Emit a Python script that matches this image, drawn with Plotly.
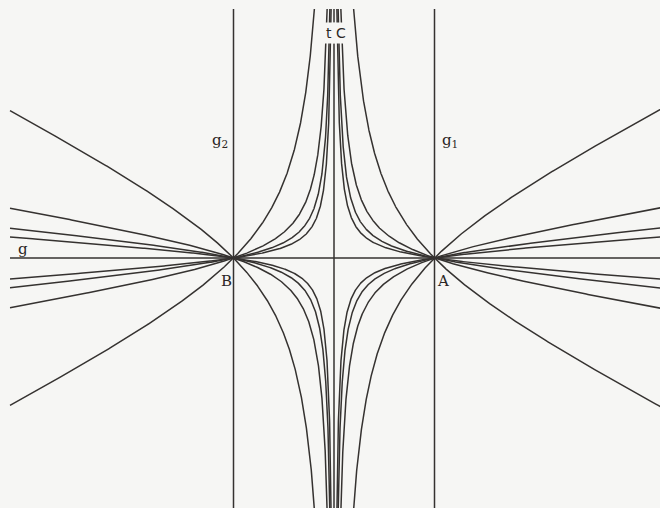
import numpy as np
import plotly.graph_objects as go

# Family parameters: y = k * (1/|x| - |x|)
k_values = [0.503, 0.170, 0.102, 0.0714]
signs = [1, -1]
labels = ["g", "g<sub>2</sub>", "g<sub>1</sub>", "B", "A", "t", "C"]

PX_C, PY_C, UNIT = 334.0, 258.0, 100.5
W, H = 660, 508
x_lo = (0 - PX_C) / UNIT
x_hi = (W - PX_C) / UNIT
y_hi = (PY_C - 0) / UNIT
y_lo = (PY_C - H) / UNIT
x_start = (10 - PX_C) / UNIT      # left end of the drawing
y_top = (PY_C - 9) / UNIT         # top end of the drawing

line_color = "#353230"
lw = 1.5

fig = go.Figure()

def add_line(xs, ys):
    fig.add_trace(go.Scatter(x=xs, y=ys, mode="lines",
                             line=dict(color=line_color, width=lw),
                             hoverinfo="skip", showlegend=False))

for k in k_values:
    for s in signs:
        kk = k * s
        if kk > 0:
            Y = y_top
        else:
            Y = abs(y_lo) + 0.2
        r = Y / abs(kk)
        x0 = (-r + np.sqrt(r * r + 4)) / 2
        xr = np.geomspace(x0, x_hi + 0.05, 600)
        yr = kk * (1 / xr - xr)
        xl = -np.geomspace(x0, -x_start, 600)
        yl = kk * (1 / np.abs(xl) - np.abs(xl))
        add_line(xr, yr)
        add_line(xl, yl)

# straight lines: g (horizontal), g1, g2, t (vertical)
add_line([x_start, x_hi + 0.1], [0, 0])
for xv in [-1, 0, 1]:
    add_line([xv, xv], [y_top, y_lo - 0.1])

font = dict(family="DejaVu Serif", size=15, color="#2a2725")
ann_pos = [(23, 249), (220, 141), (450, 141), (226, 281), (443, 281), (329, 33), (341, 33)]
annotations = []
for text, (px, py) in zip(labels, ann_pos):
    a = dict(x=px / W, y=1 - py / H, xref="paper", yref="paper", text=text,
             showarrow=False, font=font, xanchor="center", yanchor="middle")
    if text in ("t", "C"):
        a["bgcolor"] = "#f6f6f4"
        a["borderpad"] = 2
        a["font"] = dict(family="DejaVu Sans", size=14, color="#2a2725")
    annotations.append(a)

fig.update_layout(
    width=W, height=H,
    margin=dict(l=0, r=0, t=0, b=0),
    paper_bgcolor="#f6f6f4", plot_bgcolor="#f6f6f4",
    xaxis=dict(range=[x_lo, x_hi], visible=False, fixedrange=True),
    yaxis=dict(range=[y_lo, y_hi], visible=False, fixedrange=True),
    annotations=annotations,
    showlegend=False,
)

fig.write_html("out.html", config={"displayModeBar": False},
               post_script="document.body.style.margin='0';document.body.style.background='#f6f6f4';")
